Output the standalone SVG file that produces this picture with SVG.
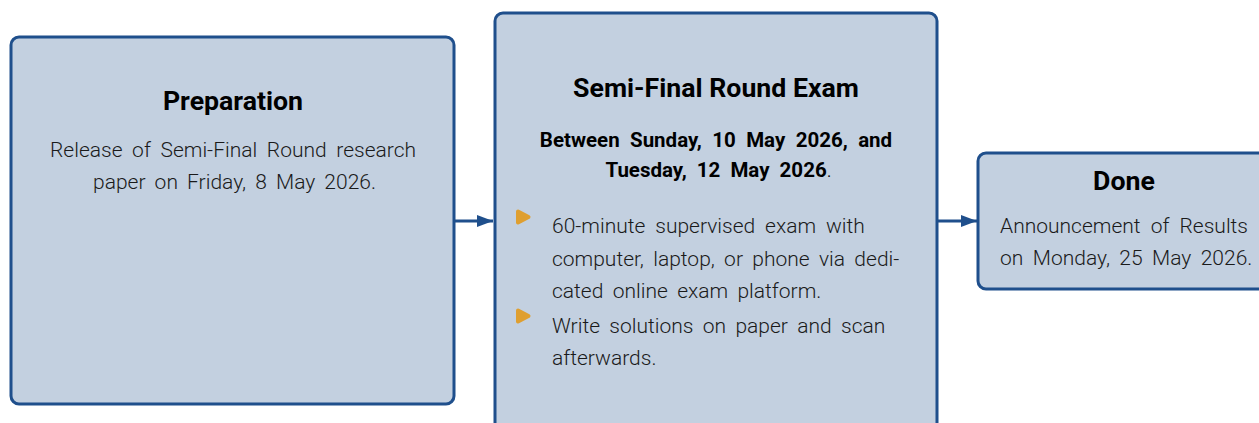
<svg xmlns="http://www.w3.org/2000/svg" width="1259" height="423" viewBox="0 0 1259 423">
<defs>
<style>
.box{fill:#c3d0e0;stroke:#1f4f8c;stroke-width:3}
.title{font-family:Roboto,"Liberation Sans",sans-serif;font-weight:bold;font-size:26.7px;fill:#000;text-anchor:middle}
.body{font-family:Roboto,"Liberation Sans",sans-serif;font-weight:300;font-size:21px;fill:#1a1a1a}
.sub{font-family:Roboto,"Liberation Sans",sans-serif;font-weight:bold;font-size:20.5px;fill:#000}
.bul{fill:#df9f30;stroke:#df9f30;stroke-width:4;stroke-linejoin:round}
.conn{stroke:#1f4f8c;stroke-width:3;fill:none}
</style>
<marker id="ah" markerWidth="16" markerHeight="12" refX="16" refY="6" orient="auto" markerUnits="userSpaceOnUse">
<path d="M0,0 L16,6 L0,12 Z" fill="#1f4f8c"/>
</marker>
</defs>
<g id="connectors">
<line class="conn" x1="455" y1="221" x2="493" y2="221" marker-end="url(#ah)"/>
<line class="conn" x1="938" y1="221" x2="977" y2="221" marker-end="url(#ah)"/>
</g>
<g id="preparation">
<rect class="box" x="11" y="37" width="443" height="367" rx="8"/>
<text class="title" x="233" y="110">Preparation</text>
<text class="body" x="233" y="157" text-anchor="middle" word-spacing="4.5">Release of Semi-Final Round research</text>
<text class="body" x="234.5" y="189" text-anchor="middle" word-spacing="4">paper on Friday, 8 May 2026.</text>
</g>
<g id="semifinal">
<rect class="box" x="495" y="13" width="442" height="430" rx="8"/>
<text class="title" x="716" y="97">Semi-Final Round Exam</text>
<text class="sub" x="716" y="147" text-anchor="middle" word-spacing="5.3">Between Sunday, 10 May 2026, and</text>
<text class="sub" x="718.5" y="177" text-anchor="middle" word-spacing="5">Tuesday, 12 May 2026<tspan font-weight="300">.</tspan></text>
<path class="bul" d="M518,211.5 L528.5,217 L518,222.5 Z"/>
<text class="body" x="552" y="233" word-spacing="4.8">60-minute supervised exam with</text>
<text class="body" x="552" y="266" word-spacing="4.2">computer, laptop, or phone via dedi-</text>
<text class="body" x="552" y="298" word-spacing="4.2">cated online exam platform.</text>
<path class="bul" d="M518,310.5 L528.5,316 L518,321.5 Z"/>
<text class="body" x="552" y="333" word-spacing="4.2">Write solutions on paper and scan</text>
<text class="body" x="552" y="365" word-spacing="4.2">afterwards.</text>
</g>
<g id="done">
<rect class="box" x="978" y="153" width="292" height="136" rx="8"/>
<text class="title" x="1124" y="190">Done</text>
<text class="body" x="1000" y="233" word-spacing="5">Announcement of Results</text>
<text class="body" x="1000" y="265" word-spacing="4.3">on Monday, 25 May 2026.</text>
</g>
</svg>
